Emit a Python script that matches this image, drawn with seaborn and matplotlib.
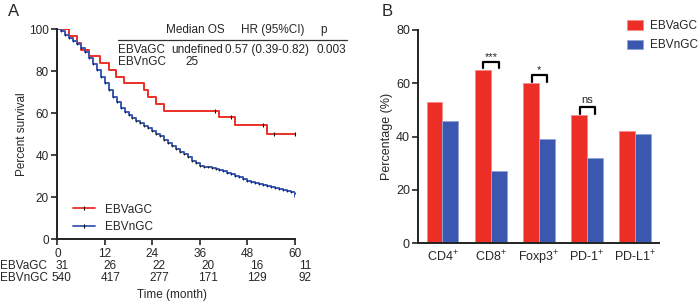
import numpy as np
import pandas as pd
import matplotlib
matplotlib.use('Agg')
from matplotlib import pyplot as plt
from matplotlib.lines import Line2D
import seaborn as sns


RED = '#EC2E27'
BLUE = '#3A58AF'

# panel A: Kaplan-Meier steps
ebva_times = [0, 2.9, 5.0, 5.9, 7.9, 10.7, 13.0, 14.9, 16.9, 22.0, 22.8, 24.9,
              26.9, 41.0, 45.0, 53.0, 60]
ebva_surv = [100, 96.8, 93.5, 90.3, 87.1, 83.9, 80.6, 77.4, 74.2, 71.0, 67.7,
             64.5, 61.3, 58.1, 54.3, 50.0, 50.0]
ebva_censor_times = [39.9, 43.8, 52.0, 54.8, 60]
ebva_censor_surv = [61.3, 58.1, 54.3, 50.0, 50.0]

ebvn_times = list(range(0, 61)) + [60]
ebvn_surv = [100, 99, 97.5, 96, 94.5, 92.8, 91, 89, 86.5, 83.5,
             80.5, 77.5, 74.5, 71.2, 68, 65.2, 62.5, 60.7, 59, 57.8,
             56.5, 55.2, 54, 52.8, 51.5, 50.2, 49, 47.5, 46, 44.5,
             43, 41.7, 40.5, 39, 37.5, 36.2, 35, 34.6, 34.3, 33.9,
             33.5, 33, 32.5, 31.8, 31, 30.2, 29.5, 28.8, 28, 27.3,
             26.8, 26.4, 26, 25.4, 24.8, 24.3, 23.8, 23.4, 23, 22.5,
             22, 20]

risk_months = [0, 12, 24, 36, 48, 60]
risk_ebva = [31, 26, 22, 20, 16, 11]
risk_ebvn = [540, 417, 277, 171, 129, 92]

# panel B: percentage of positive cases
markers = ['CD4$^{+}$', 'CD8$^{+}$', 'Foxp3$^{+}$', 'PD-1$^{+}$', 'PD-L1$^{+}$']
pct_ebva = [53, 65, 60, 48, 42]
pct_ebvn = [46, 27, 39, 32, 41]
sig_labels = ['', '***', '*', 'ns', '']


def style_axis(ax):
    sns.despine(ax=ax)
    for side in ['left', 'bottom']:
        ax.spines[side].set_linewidth(1.4)
        ax.spines[side].set_color('#222222')
    ax.tick_params(length=4, width=1.2, color='#222222', labelsize=8.5, pad=2)


def plot_survival(fig):
    ax = fig.add_axes([0.0819, 0.2205, 0.339, 0.684])
    km = pd.concat([
        pd.DataFrame({'t': ebva_times, 's': ebva_surv, 'group': 'EBVaGC'}),
        pd.DataFrame({'t': ebvn_times, 's': ebvn_surv, 'group': 'EBVnGC'}),
    ])
    sns.lineplot(data=km, x='t', y='s', hue='group', palette=[RED, BLUE],
                 estimator=None, sort=False, drawstyle='steps-post',
                 linewidth=1.4, legend=False, ax=ax)
    # censor marks
    ax.plot(ebva_censor_times, ebva_censor_surv, ls='none', marker='|',
            ms=3, mew=0.8, color='black')
    ax.plot(ebvn_times[1:-1], ebvn_surv[1:-1], ls='none', marker='|',
            ms=2, mew=0.6, color='#111111')

    ax.set_xlim(0, 60)
    ax.set_ylim(0, 100)
    ax.set_xticks(risk_months)
    ax.set_yticks([0, 20, 40, 60, 80, 100])
    ax.set_xlabel('')
    ax.set_ylabel('Percent survival', fontsize=8.5, labelpad=1)
    style_axis(ax)

    handles = [Line2D([], [], color=RED, lw=1.3, marker='|', ms=3,
                      mec='black', mew=0.8),
               Line2D([], [], color=BLUE, lw=1.3, marker='|', ms=3,
                      mec='black', mew=0.8)]
    ax.legend(handles, ['EBVaGC', 'EBVnGC'], loc='lower left',
              bbox_to_anchor=(0.02, -0.02), frameon=False, fontsize=8.5,
              handlelength=1.9, handletextpad=0.8, labelspacing=0.45)

    # summary table in the top right
    tf = ax.transAxes
    kw = dict(transform=tf, fontsize=8.5, va='center', clip_on=False)
    ax.text(0.58, 0.995, 'Median OS', ha='center', **kw)
    ax.text(0.906, 0.995, 'HR (95%CI)', ha='center', **kw)
    ax.text(1.12, 0.995, 'p', ha='center', **kw)
    ax.plot([0.256, 1.22], [0.95, 0.95], transform=tf, color='#333333',
            lw=0.9, clip_on=False)
    ax.text(0.256, 0.90, 'EBVaGC', ha='left', **kw)
    ax.text(0.587, 0.90, 'undefined', ha='center', **kw)
    ax.text(0.883, 0.90, '0.57 (0.39-0.82)', ha='center', **kw)
    ax.text(1.153, 0.90, '0.003', ha='center', **kw)
    ax.text(0.256, 0.845, 'EBVnGC', ha='left', **kw)
    ax.text(0.566, 0.845, '25', ha='center', **kw)

    # number at risk
    for row_y, label, counts in [(-0.128, 'EBVaGC', risk_ebva),
                                 (-0.186, 'EBVnGC', risk_ebvn)]:
        fig.text(0.0, 0.2205 + 0.684 * row_y, label, fontsize=8.5,
                 va='center', ha='left')
        for m, n in zip(risk_months, counts):
            ax.text(1.1 + m * 1.026, row_y, str(n),
                    transform=ax.get_xaxis_transform(),
                    fontsize=8.5, ha='center', va='center', clip_on=False)
    ax.text(0.483, -0.265, 'Time (month)', transform=tf, fontsize=8.5,
            ha='center', va='center')
    fig.text(0.02, 0.962, 'A', fontsize=12, ha='center', va='center')


def plot_bars(fig):
    ax = fig.add_axes([0.5976, 0.2075, 0.3443, 0.6948])
    df = pd.DataFrame({
        'marker': markers * 2,
        'pct': pct_ebva + pct_ebvn,
        'group': ['EBVaGC'] * len(markers) + ['EBVnGC'] * len(markers),
    })
    sns.barplot(data=df, x='marker', y='pct', hue='group',
                palette=[RED, BLUE], saturation=1, width=0.66, gap=0,
                errorbar=None, ax=ax)
    for bar in ax.patches:
        fc = bar.get_facecolor()
        bar.set_edgecolor(tuple(0.55 * np.array(fc[:3]) + 0.45) + (1,))
        bar.set_linewidth(0.7)

    ax.set_ylim(0, 80)
    ax.set_xlim(-0.5, 4.5)
    ax.set_yticks([0, 20, 40, 60, 80])
    ax.set_xlabel('')
    ax.set_ylabel('Percentage (%)', fontsize=9, labelpad=2)
    style_axis(ax)
    ax.tick_params(axis='x', length=0, labelsize=9, pad=4)
    ax.tick_params(axis='y', labelsize=9)

    # significance brackets
    for i, lab in enumerate(sig_labels):
        if not lab:
            continue
        top = max(pct_ebva[i], pct_ebvn[i]) + 3
        x0, x1 = i - 0.15, i + 0.17
        ax.plot([x0, x0, x1, x1], [top - 2.4, top, top, top - 2.4],
                color='black', lw=1.6, clip_on=False)
        y_txt = top + 2.0 if lab != 'ns' else top + 2.6
        ax.text((x0 + x1) / 2, y_txt, lab, ha='center', va='center',
                fontsize=8)

    h, l = ax.get_legend_handles_labels()
    ax.legend(h, l, loc='upper left', bbox_to_anchor=(0.865, 1.045),
              frameon=False, fontsize=8.5, handlelength=1.35,
              handleheight=0.9, handletextpad=0.6, labelspacing=0.6,
              borderaxespad=0, borderpad=0)
    fig.text(0.553, 0.962, 'B', fontsize=12, ha='center', va='center')


sns.set_theme(style='ticks')
plt.rcParams['font.family'] = ['Liberation Sans', 'DejaVu Sans']
plt.rcParams['mathtext.default'] = 'regular'

fig = plt.figure(figsize=(7.0, 3.07), dpi=100)
plot_survival(fig)
plot_bars(fig)
fig.savefig('out.png', dpi=100)
